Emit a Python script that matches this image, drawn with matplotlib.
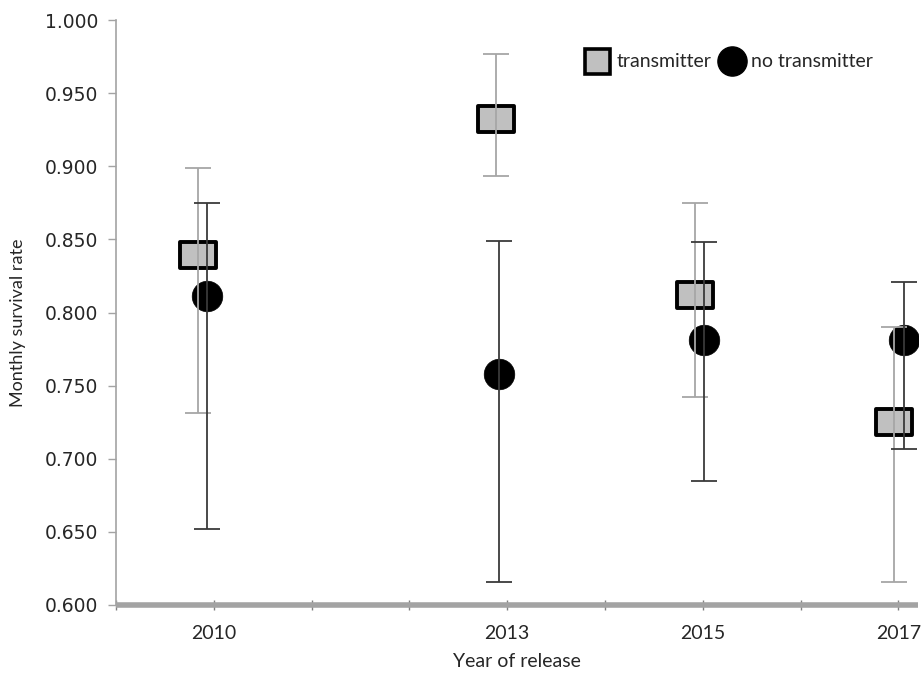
import numpy as np
from matplotlib import pyplot as plt
from matplotlib.lines import Line2D
from matplotlib.path import Path

# Monthly survival estimates with 95% CI, by year of release
tx_year = [2009.84, 2012.89, 2014.92, 2016.95]
tx_rate = [0.839, 0.932, 0.812, 0.725]
tx_low = [0.731, 0.893, 0.742, 0.616]
tx_high = [0.899, 0.977, 0.875, 0.790]

no_year = [2009.93, 2012.92, 2015.01, 2017.06]
no_rate = [0.811, 0.758, 0.781, 0.781]
no_low = [0.652, 0.616, 0.685, 0.707]
no_high = [0.875, 0.849, 0.848, 0.821]

year_ticks = np.arange(2009, 2018)
year_labels = {2010: '2010', 2013: '2013', 2015: '2015', 2017: '2017'}
rate_ticks = np.arange(0.600, 1.0001, 0.050)

LABEL_FONT = 'Lato'
AXIS_GREY = '#a3a3a3'

# Wide rectangle marker, as the squares are stretched on the plot
rect = Path([(-1, -0.71), (1, -0.71), (1, 0.71), (-1, 0.71), (-1, -0.71)],
            [Path.MOVETO, Path.LINETO, Path.LINETO, Path.LINETO, Path.CLOSEPOLY])

fig = plt.figure(figsize=(9.22, 6.75), dpi=100)
ax = fig.add_axes([116 / 922, 1 - 605 / 675, 802 / 922, 585 / 675])

tx_err = [np.subtract(tx_rate, tx_low), np.subtract(tx_high, tx_rate)]
no_err = [np.subtract(no_rate, no_low), np.subtract(no_high, no_rate)]

ax.plot(tx_year, tx_rate, ls='none', marker=rect, ms=26,
        mfc='#c0c0c0', mec='black', mew=2.8, zorder=2)
ax.plot(no_year, no_rate, ls='none', marker='o', ms=22,
        mfc='black', mec='black', mew=0.5, zorder=2)
ax.errorbar(tx_year, tx_rate, yerr=tx_err, fmt='none', ecolor='#a6a6a6',
            elinewidth=1.3, capsize=9.5, capthick=1.3, zorder=3)
ax.errorbar(no_year, no_rate, yerr=no_err, fmt='none', ecolor='#3a3a3a',
            elinewidth=1.3, capsize=9.5, capthick=1.3, zorder=3)

ax.set_xlim(2009, 2017.2)
ax.set_ylim(0.600, 1.000)

ax.set_xticks(year_ticks)
ax.set_xticklabels([year_labels.get(y, '') for y in year_ticks],
                   fontfamily=LABEL_FONT, fontsize=14, color='#262626')
ax.set_yticks(rate_ticks)
ax.set_yticklabels(['%.3f' % v for v in rate_ticks],
                   fontfamily='DejaVu Sans', fontsize=13.5, color='#262626')

ax.tick_params(axis='x', direction='inout', length=7, width=1,
               color='#808080', pad=11)
ax.tick_params(axis='y', direction='out', length=6, width=1,
               color=AXIS_GREY, pad=7)

for side in ('top', 'right'):
    ax.spines[side].set_visible(False)
ax.spines['left'].set_color(AXIS_GREY)
ax.spines['left'].set_linewidth(1.2)
ax.spines['bottom'].set_color(AXIS_GREY)
ax.spines['bottom'].set_linewidth(4)
ax.spines['bottom'].set_capstyle('butt')

ax.set_xlabel('Year of release', fontfamily=LABEL_FONT, fontsize=14,
              color='#262626', labelpad=8)
fig.text(18 / 922, 1 - 323 / 675, 'Monthly survival rate', rotation=90,
         ha='center', va='center', fontfamily=LABEL_FONT, fontsize=13,
         color='#262626')

handles = [
    Line2D([], [], ls='none', marker='s', ms=18, mfc='#c0c0c0',
           mec='black', mew=2.6, label='transmitter'),
    Line2D([], [], ls='none', marker='o', ms=21, mfc='black',
           mec='black', label='no transmitter'),
]
fig.legend(handles=handles, loc='upper left',
           bbox_to_anchor=(568 / 922, 1 - 36 / 675), ncol=2, frameon=False,
           handlelength=1.2, handletextpad=0.4, columnspacing=0.45,
           prop={'family': LABEL_FONT, 'size': 14}, labelcolor='#262626')

fig.savefig('out.png', dpi=100)
